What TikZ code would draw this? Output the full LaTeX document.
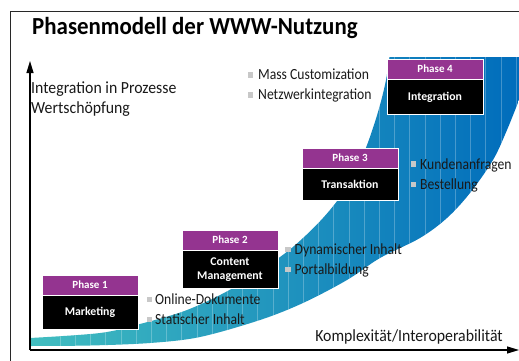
\documentclass[tikz,border=0pt]{standalone}
\usepackage{fontspec}
\setmainfont{Carlito}
\newfontfamily\condfont[FakeStretch=0.93]{Carlito}
\newfontfamily\itemfont[FakeStretch=0.88]{Carlito}
\newfontfamily\headfont[FakeStretch=0.935]{Carlito}
\usetikzlibrary{arrows.meta}

\definecolor{phasepurple}{RGB}{148,52,144}
\definecolor{bandteal}{RGB}{66,190,192}
\definecolor{bandcyan}{RGB}{0,178,228}
\definecolor{bandblue}{RGB}{0,108,188}
\definecolor{bulletgray}{RGB}{200,200,200}
\definecolor{framegray}{RGB}{40,40,40}

\tikzset{
  frameline/.style={draw=framegray, line width=1pt},
  axisline/.style={draw=black, line width=1.1pt, -{Triangle[length=12pt,width=7pt]}},
  axislabel/.style={font=\condfont\fontsize{17}{20}\selectfont, inner sep=0pt, text=black!90},
  itemtext/.style={font=\itemfont\fontsize{15.5}{19}\selectfont, inner sep=0pt, anchor=base west, text=black!90},
  bulletsq/.style={fill=bulletgray, minimum size=5.5pt, inner sep=0pt},
  phasehead/.style={fill=phasepurple, draw=white, line width=0.8pt, minimum width=96pt,
    minimum height=19.5pt, inner sep=0pt, anchor=north, text=white,
    font=\bfseries\fontsize{11}{12}\selectfont},
  phasebody/.style={fill=black, draw=white, line width=0.8pt, minimum width=96pt,
    inner sep=0pt, anchor=north, text=white, align=center,
    font=\bfseries\fontsize{11.8}{13.5}\selectfont},
}

\begin{document}
\begin{tikzpicture}[x=1pt,y=-1pt]
\useasboundingbox (0,0) rectangle (519,361);

% outer frame (left and top edge)
\draw[frameline] (10,361) -- (10,12) -- (519,12);

% title
\node[anchor=base west, inner sep=0pt, font=\headfont\bfseries\fontsize{24.5}{28}\selectfont]
  (title) at (32,35) {Phasenmodell der WWW-Nutzung};

% growth band with horizontal colour gradient and thin stripes
\begin{scope}
  \clip (30,58) rectangle (519,350);
  \clip plot[smooth, tension=0.55] coordinates {(30,338) (100,333) (140,324) (187,310)
      (233,288) (280,257) (303,238) (323,218) (340,197) (355,172) (367,145) (378,112)
      (386,80) (391,45)}
    -- (519,45) --
    plot[smooth, tension=0.55] coordinates {(519,100) (507,130) (493,160) (470,193)
      (447,218) (420,238) (380,258) (347,280) (303,303) (260,320) (200,337) (150,343)
      (90,345.5) (30,346)}
    -- cycle;
  \shade[left color=bandteal, middle color=bandcyan, right color=bandblue]
    (30,40) rectangle (519,350);
  \foreach \sx in {60,75.2,...,519}
    \draw[white, opacity=0.25, line width=0.6pt] (\sx,40) -- (\sx,350);
\end{scope}

% axes
\coordinate (origin) at (30,350);
\coordinate (ytip) at (30,61);
\coordinate (xtip) at (519,350);
\draw[axisline] (origin) -- (ytip);
\draw[axisline] (origin) -- (xtip);

\node[axislabel, anchor=base west] (ylab1) at (31,93) {Integration in Prozesse};
\node[axislabel, anchor=base west] (ylab2) at (31,113) {Wertschöpfung};
\node[axislabel, anchor=base east] (xlab) at (503,341.5) {Komplexität/Interoperabilität};

% phase 1
\node[phasehead] (h1) at (90,275) {Phase 1};
\node[phasebody, minimum height=34pt] (b1) at (h1.south) {Marketing};
% phase 2
\node[phasehead] (h2) at (230,230) {Phase 2};
\node[phasebody, minimum height=38pt] (b2) at (h2.south) {Content\\Management};
% phase 3
\node[phasehead] (h3) at (350,148) {Phase 3};
\node[phasebody, minimum height=32pt] (b3) at (h3.south) {Transaktion};
% phase 4
\node[phasehead] (h4) at (435,59) {Phase 4};
\node[phasebody, minimum height=35pt] (b4) at (h4.south) {Integration};

% bullet lists
\node[bulletsq] (s1) at (149.5,299.5) {};
\node[itemtext] (t1) at (155,304) {Online-Dokumente};
\node[bulletsq] (s2) at (149.5,319.5) {};
\node[itemtext] (t2) at (155,324) {Statischer Inhalt};

\node[bulletsq] (s3) at (288,249.5) {};
\node[itemtext] (t3) at (294.5,254) {Dynamischer Inhalt};
\node[bulletsq] (s4) at (288,269.5) {};
\node[itemtext] (t4) at (294.5,274) {Portalbildung};

\node[bulletsq] (s5) at (413.5,164) {};
\node[itemtext] (t5) at (420,169) {Kundenanfragen};
\node[bulletsq] (s6) at (413.5,184.5) {};
\node[itemtext] (t6) at (420,189) {Bestellung};

\node[bulletsq] (s7) at (250.5,75) {};
\node[itemtext] (t7) at (258,79) {Mass Customization};
\node[bulletsq] (s8) at (250.5,95) {};
\node[itemtext] (t8) at (258,99) {Netzwerkintegration};
\end{tikzpicture}
\end{document}
